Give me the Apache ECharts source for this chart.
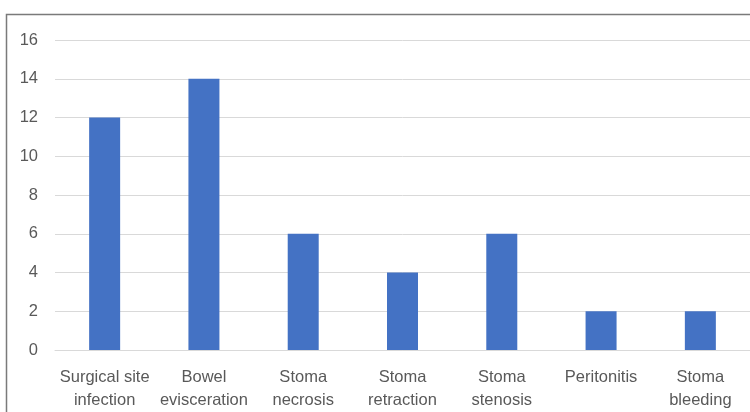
<!DOCTYPE html>
<html>
<head>
<meta charset="utf-8">
<script src="https://cdn.jsdelivr.net/npm/echarts@6/dist/echarts.min.js"></script>
<style>
  html, body { margin: 0; padding: 0; background: #fff; }
  #chart { width: 750px; height: 412px; }
</style>
</head>
<body>
<div id="chart"></div>
<script>
// Complication categories and their counts
const categories = [
  'Surgical site\ninfection',
  'Bowel\nevisceration',
  'Stoma\nnecrosis',
  'Stoma\nretraction',
  'Stoma\nstenosis',
  'Peritonitis',
  'Stoma\nbleeding'
];
const counts = [12, 14, 6, 4, 6, 2, 2];
const yTicks = { min: 0, max: 16, interval: 2 };

const chart = echarts.init(document.getElementById('chart'), null, { renderer: 'canvas' });
chart.setOption({
  animation: false,
  backgroundColor: '#ffffff',
  graphic: [{
    type: 'rect',
    shape: { x: 6.5, y: 14.5, width: 900, height: 600 },
    style: { fill: 'none', stroke: '#7a7a7a', lineWidth: 1.5 },
    z: 10
  }],
  grid: { left: 55, right: -3, top: 40, bottom: 62 },
  xAxis: {
    type: 'category',
    data: categories,
    axisLine: { show: true, lineStyle: { color: '#d9d9d9', width: 1 } },
    axisTick: { show: false },
    axisLabel: {
      color: '#595959',
      fontFamily: 'Liberation Sans, Arial, sans-serif',
      fontSize: 16.5,
      lineHeight: 23,
      margin: 16,
      interval: 0
    }
  },
  yAxis: {
    type: 'value',
    min: yTicks.min,
    max: yTicks.max,
    interval: yTicks.interval,
    axisLine: { show: false },
    axisTick: { show: false },
    splitLine: { lineStyle: { color: '#d9d9d9', width: 1 } },
    axisLabel: {
      color: '#595959',
      fontFamily: 'Liberation Sans, Arial, sans-serif',
      fontSize: 16.5,
      margin: 17
    }
  },
  series: [{
    type: 'bar',
    data: counts,
    barWidth: 31,
    itemStyle: { color: '#4472c4' }
  }]
});
</script>
</body>
</html>
